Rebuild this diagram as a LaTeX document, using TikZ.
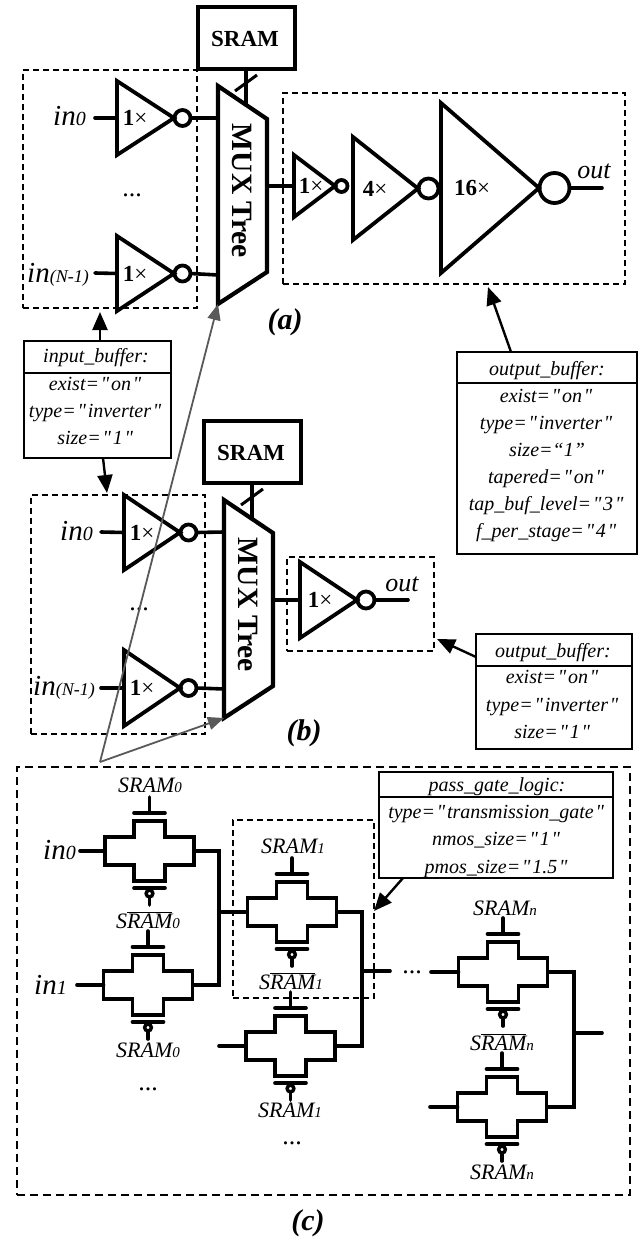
\documentclass[tikz,border=0pt]{standalone}
\usepackage{fontspec}
\setmainfont{Liberation Serif}[Ligatures=TeXOff]
\usetikzlibrary{arrows.meta}
\newcommand\fs[1]{\fontsize{#1}{#1}\selectfont}
\newcommand\ovl[1]{\leavevmode\setbox0\hbox{#1}\rlap{\rule[1.02\ht0]{\wd0}{0.9pt}}\box0}
\newcommand\q{\kern1.8pt"\kern1.8pt}
\tikzset{
 x=1pt,y=-1pt,
 wire/.style={line width=3.6pt,line cap=round,line join=miter},
 thick3/.style={line width=3.8pt,line join=miter},
 bub/.style={line width=3.4pt},
 dbox/.style={draw,line width=1.8pt,dash pattern=on 6pt off 4pt,inner sep=0pt,outer sep=0pt,anchor=north west},
 dboxc/.style={draw,line width=1.9pt,dash pattern=on 8pt off 5pt,inner sep=0pt,outer sep=0pt,anchor=north west},
 sbox/.style={draw,line width=3.8pt,inner sep=0pt,outer sep=0pt,anchor=north west},
 tbl/.style={draw,line width=1.8pt,inner sep=0pt,outer sep=0pt,anchor=north west},
 thd/.style={draw,line width=2.5pt,inner sep=0pt,outer sep=0pt,anchor=north west},
 ttxt/.style={inner sep=0pt,anchor=base,font=\fs{20}\itshape},
 gatet/.style={inner sep=0pt,font=\fs{23}},
 muxt/.style={inner sep=0pt,rotate=-90,font=\fs{29.5}\bfseries},
 srt/.style={inner sep=0pt,font=\fs{23}\bfseries},
 inl/.style={inner sep=0pt,anchor=base west,font=\fs{29}\itshape},
 sr/.style={inner sep=0pt,anchor=base,font=\fs{22}\itshape},
 dotl/.style={inner sep=0pt,anchor=base,font=\fs{26}},
 capt/.style={inner sep=0pt,font=\fs{30}\bfseries\itshape},
 outl/.style={inner sep=0pt,font=\fs{26}\itshape},
 blk/.style={line width=2.4pt,-{Triangle[length=18pt,width=15pt]}},
 gry/.style={line width=1.8pt,color=black!65,-{Triangle[length=16pt,width=13pt]}},
}
% rectangle node from corners
\newcommand\rbox[6]{\pgfmathsetmacro\rw{#5-#3}\pgfmathsetmacro\rh{#6-#4}%
 \node[#2,minimum width=\rw pt,minimum height=\rh pt] (#1) at (#3,#4) {};}
% inverter: name, left, top, bottom, tip, radius, label, label x
\newcommand\inverter[8]{\pgfmathsetmacro\my{(#3+#4)/2}\pgfmathsetmacro\cx{#5+#6+0.5}%
 \draw[thick3] (#2,#3) -- (#5,\my) -- (#2,#4) -- cycle;
 \draw[thick3] (\cx,\my) circle[radius=#6];
 \coordinate (#1i) at (#2,\my);
 \pgfmathsetmacro\ox{\cx+#6}\coordinate (#1o) at (\ox,\my);
 \node[gatet] (#1t) at (#8,\my) {{\bfseries #7}×};}
% mux tree
\newcommand\muxtree[3]{\begin{scope}[shift={(#2,#3)}]
 \draw[line width=4.2pt,line join=miter] (0,0) -- (49,33) -- (49,186) -- (0,218) -- cycle;
 \coordinate (#1a) at (0,32); \coordinate (#1b) at (0,189); \coordinate (#1o) at (49,100);
 \coordinate (#1s) at (28,19); \coordinate (#1c) at (0,218);
 \coordinate (#1u) at (17,5); \coordinate (#1v) at (39,-11);
 \node[muxt] (#1t) at (24,105) {MUX Tree};
 \end{scope}}
% transmission gate
\newcommand\tgate[3]{\begin{scope}[shift={(#2,#3)}]
 \draw[thick3] (-44.5,-14) -- (-15.5,-14) -- (-15.5,-30) -- (15.5,-30) -- (15.5,-14) -- (44.5,-14) -- (44.5,14) -- (15.5,14) -- (15.5,30) -- (-15.5,30) -- (-15.5,14) -- (-44.5,14) -- cycle;
 \draw[wire] (-15.5,-38) -- (15.5,-38);
 \draw[wire] (0,-38) -- (0,-54);
 \draw[wire] (-15.5,37) -- (15.5,37);
 \draw[bub] (0,42.5) circle[radius=3.4];
 \draw[wire] (0,46.5) -- (0,54);
 \coordinate (#1l) at (-44.5,0); \coordinate (#1r) at (44.5,0);
 \end{scope}}
\begin{document}
\begin{tikzpicture}
\useasboundingbox (0,0) rectangle (641,1241);
\fill[white] (0,0) rectangle (641,1241);

% ---------- (a)
\rbox{ainbox}{dbox}{23}{70}{197}{308}
\rbox{aoutbox}{dbox}{283}{93}{625}{284}
\muxtree{am}{218}{86}
\rbox{asram}{sbox}{198}{7}{295}{69}
\node[srt] (asramt) at (245,39) {SRAM};
\draw[wire] (asram.south -| ams) -- (ams);
\draw[wire,line width=3pt,line cap=butt] (amu) -- (amv);
\inverter{ai}{117}{81}{155}{174}{8}{1}{135}
\inverter{aj}{117}{236}{311}{174}{8}{1}{135}
\coordinate (ae0) at (95,118); \coordinate (ae1) at (95,273);
\draw[wire] (ae0) -- (aii);
\draw[wire] (ae1) -- (aji);
\draw[wire,line cap=butt] (aio) -- (ama);
\draw[wire,line cap=butt] (ajo) -- (amb);
\node[inl] (ain0) at (53,126) {in{\fs{20}0}};
\node[inl] (ainn) at (27,282) {in{\fs{18}(N-1)}};
\node[dotl] (adots) at (132,197) {...};
\inverter{ap}{294}{155}{217}{335}{6}{1}{311}
\inverter{aq}{353}{137}{240}{418}{10}{4}{375}
\inverter{ar}{441}{103}{273}{539}{15}{16}{472}
\draw[wire,line cap=butt] (amo) -- (api);
\coordinate (aend) at (602,188);
\draw[wire] (aro) -- (aend);
\node[outl] (aout) at (594,171) {out};
\node[capt] (acap) at (285,322) {(a)};

% input_buffer
\rbox{ibox}{tbl}{24}{341}{171}{458}
\rbox{ihead}{thd}{24}{341}{171}{373}
\node[ttxt] (it0) at (96,362) {input\_buffer:};
\node[ttxt] (it1) at (96,390) {exist=\q on\q};
\node[ttxt] (it2) at (96,417) {type=\q inverter\q};
\node[ttxt] (it3) at (96,444) {size=\q 1\q};

% output_buffer (a)
\rbox{obox}{tbl}{457}{352}{637}{554}
\rbox{ohead}{thd}{457}{352}{637}{383}
\node[ttxt] (ot0) at (547,375) {output\_buffer:};
\node[ttxt] (ot1) at (547,402) {exist=\q on\q};
\node[ttxt] (ot2) at (547,429) {type=\q inverter\q};
\node[ttxt] (ot3) at (547,456) {size=“1”};
\node[ttxt] (ot4) at (547,483) {tapered=\q on\q};
\node[ttxt] (ot5) at (547,510) {tap\_buf\_level=\q 3\q};
\node[ttxt] (ot6) at (547,537) {f\_per\_stage=\q 4\q};

% ---------- (b)
\rbox{binbox}{dbox}{31}{495}{205}{734}
\rbox{boutbox}{dbox}{287}{557}{434}{651}
\muxtree{bm}{224}{500}
\rbox{bsram}{sbox}{204}{421}{301}{483}
\node[srt] (bsramt) at (251,453) {SRAM};
\draw[wire] (bsram.south -| bms) -- (bms);
\draw[wire,line width=3pt,line cap=butt] (bmu) -- (bmv);
\inverter{bi}{124}{495}{570}{180}{8}{1}{142}
\inverter{bj}{124}{650}{726}{180}{8}{1}{142}
\coordinate (be0) at (101,532); \coordinate (be1) at (101,688);
\draw[wire] (be0) -- (bii);
\draw[wire] (be1) -- (bji);
\draw[wire,line cap=butt] (bio) -- (bma);
\draw[wire,line cap=butt] (bjo) -- (bmb);
\node[inl] (bin0) at (60,540) {in{\fs{20}0}};
\node[inl] (binn) at (33,695) {in{\fs{18}(N-1)}};
\node[dotl] (bdots) at (139,610) {...};
\inverter{bp}{300}{562}{638}{357}{8.5}{1}{320}
\draw[wire,line cap=butt] (bmo) -- (bpi);
\coordinate (bend) at (408,600);
\draw[wire] (bpo) -- (bend);
\node[outl] (bout) at (402,584) {out};
\node[capt] (bcap) at (304,733) {(b)};

% output_buffer (b)
\rbox{pbox}{tbl}{476}{634}{632}{749}
\rbox{phead}{thd}{476}{634}{632}{666}
\node[ttxt] (pt0) at (553,657) {output\_buffer:};
\node[ttxt] (pt1) at (553,683) {exist=\q on\q};
\node[ttxt] (pt2) at (553,711) {type=\q inverter\q};
\node[ttxt] (pt3) at (553,738) {size=\q 1\q};

% ---------- (c)
\rbox{cbox}{dboxc}{17}{767}{630}{1195}
\rbox{cinner}{dbox}{233}{820}{374}{998}
\tgate{ta}{149.5}{851}
\tgate{tb}{148}{985}
\tgate{tc}{292}{912}
\tgate{td}{290.5}{1046}
\tgate{te}{503}{972}
\tgate{tf}{502}{1107}
\coordinate (ca) at (80,851); \coordinate (cb) at (77,985);
\coordinate (cd) at (219,1046);
\coordinate (ce) at (431,972); \coordinate (cf) at (430,1107);
\draw[wire] (ca) -- (tal);
\draw[wire] (cb) -- (tbl);
\draw[wire] (cd) -- (tdl);
\draw[wire] (ce) -- (tel);
\draw[wire] (cf) -- (tfl);
\coordinate (c1) at (219,851); \coordinate (c2) at (219,985);
\draw[wire,line cap=butt] (tar) -- (c1) -- (c2) -- (tbr);
\coordinate (c3) at (219,912);
\draw[wire,line cap=butt] (c3) -- (tcl);
\coordinate (c4) at (362,912); \coordinate (c5) at (362,1046);
\draw[wire,line cap=butt] (tcr) -- (c4) -- (c5) -- (tdr);
\coordinate (c6) at (362,971); \coordinate (c7) at (390,971);
\draw[wire] (c6) -- (c7);
\coordinate (c8) at (574,972); \coordinate (c9) at (574,1107);
\draw[wire,line cap=butt] (ter) -- (c8) -- (c9) -- (tfr);
\coordinate (c10) at (574,1033); \coordinate (c11) at (602,1033);
\draw[wire] (c10) -- (c11);

\node[inl] (cin0) at (43,859) {in{\fs{20}0}};
\node[inl] (cin1) at (34,994) {in{\fs{20}1}};
\node[sr] (s0a) at (150,792) {SRAM{\fs{15}0}};
\node[sr] (s0b) at (148,928) {S\ovl{RAM}{\fs{15}0}};
\node[sr] (s0c) at (148,1057) {SRAM{\fs{15}0}};
\node[sr] (s1a) at (293,853) {SRAM{\fs{15}1}};
\node[sr] (s1b) at (291,989) {S\ovl{RAM}{\fs{15}1}};
\node[sr] (s1c) at (290,1117) {SRAM{\fs{15}1}};
\node[sr] (sna) at (505,915) {SRAM{\fs{15}n}};
\node[sr] (snb) at (502,1050) {S\ovl{RAM}{\fs{15}n}};
\node[sr] (snc) at (502,1179) {SRAM{\fs{15}n}};
\node[dotl] (cd0) at (148,1090) {...};
\node[dotl] (cd1) at (292,1144) {...};
\node[dotl] (cd2) at (412,973) {...};
\node[capt] (ccap) at (308,1223) {(c)};

% pass_gate_logic
\rbox{gbox}{tbl}{379}{772}{613}{878}
\rbox{ghead}{thd}{379}{772}{613}{797}
\node[ttxt] (gt0) at (497,791) {pass\_gate\_logic:};
\node[ttxt] (gt1) at (497,818) {type=\q transmission\_gate\q};
\node[ttxt] (gt2) at (497,845) {nmos\_size=\q 1\q};
\node[ttxt] (gt3) at (497,873) {pmos\_size=\q 1.5\q};

% ---------- callout arrows
\coordinate (i1) at (100,341); \coordinate (i2) at (100,312);
\draw[blk] (i1) -- (i2);
\coordinate (i3) at (103,458); \coordinate (i4) at (107,493);
\draw[blk] (i3) -- (i4);
\coordinate (o1) at (511,352); \coordinate (o2) at (488,287);
\draw[blk] (o1) -- (o2);
\coordinate (p1) at (476,657); \coordinate (p2) at (437,639);
\draw[blk] (p1) -- (p2);
\coordinate (g1) at (403,878); \coordinate (g2) at (374,911);
\draw[blk] (g1) -- (g2);
\coordinate (apex) at (100,762);
\draw[gry] (apex) -- (amc);
\draw[gry] (apex) -- (bmc);
\end{tikzpicture}
\end{document}
